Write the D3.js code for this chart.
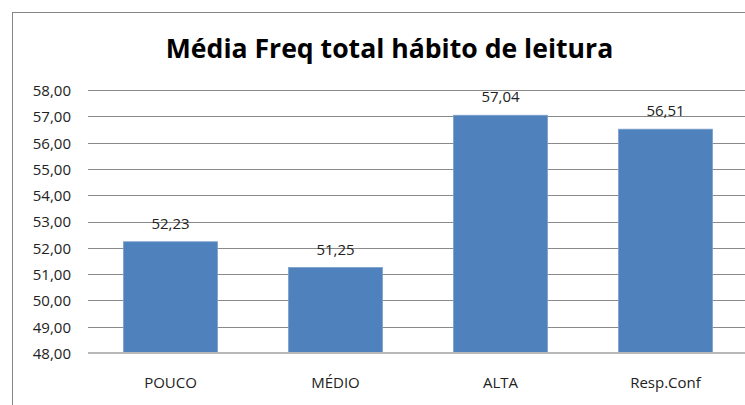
<!DOCTYPE html>
<html><head><meta charset="utf-8">
<script src="https://cdn.jsdelivr.net/npm/d3@7"></script>
<style>html,body{margin:0;padding:0;background:#fff;overflow:hidden}</style>
</head><body>
<svg id="chart" width="745" height="405"></svg>
<script>
const title = "Média Freq total hábito de leitura";
const categories = ["POUCO", "MÉDIO", "ALTA", "Resp.Conf"];
const values = [52.23, 51.25, 57.04, 56.51];
const yTicks = [48, 49, 50, 51, 52, 53, 54, 55, 56, 57, 58];

const svg = d3.select("#chart");
const fmt = v => d3.format(".2f")(v).replace(".", ",");
const font = "'Open Sans', sans-serif";

// frame
svg.append("rect").attr("x", 12.5).attr("y", 12.5).attr("width", 760).attr("height", 420)
  .attr("fill", "#fff").attr("stroke", "#868686").attr("stroke-width", 1);

const x = d3.scaleBand().domain(categories).range([88, 748]).paddingInner(0.4303).paddingOuter(0.2152);
const y = d3.scaleLinear().domain([48, 58]).range([353, 90]);

// gridlines
const yAxis = d3.axisLeft(y).tickValues(yTicks).tickFormat(fmt).tickSize(-(748 - 88)).tickPadding(17);
const gy = svg.append("g").attr("transform", "translate(88,0)").call(yAxis);
gy.select(".domain").remove();
gy.selectAll(".tick line").attr("stroke", "#8a8a8a").attr("shape-rendering", "crispEdges");
gy.selectAll(".tick text").attr("font-family", font).attr("font-size", 15).attr("fill", "#222").attr("dy", "0.36em");

// bars
svg.append("g").selectAll("rect").data(values).join("rect")
  .attr("x", (d, i) => x(categories[i]))
  .attr("y", d => y(d))
  .attr("width", x.bandwidth())
  .attr("height", d => y(48) - y(d))
  .attr("fill", "#4F81BD")
  .attr("stroke", "#7ba0cd").attr("stroke-width", 0.8);

// bottom axis
const xAxis = d3.axisBottom(x).tickSize(0).tickPadding(0);
const gx = svg.append("g").attr("transform", "translate(0,353)").call(xAxis);
gx.select(".domain").attr("d", "M88,0H748").attr("stroke", "#b8b8b8").attr("stroke-width", 2);
gx.selectAll(".tick text").attr("font-family", font).attr("font-size", 15).attr("fill", "#222")
  .attr("dy", 0).attr("y", 35);

// value labels
svg.append("g").selectAll("text").data(values).join("text")
  .attr("x", (d, i) => x(categories[i]) + x.bandwidth() / 2)
  .attr("y", d => y(d) - 13)
  .attr("text-anchor", "middle")
  .attr("font-family", font).attr("font-size", 15).attr("fill", "#222")
  .text(d => fmt(d));

// title
svg.append("text").attr("x", 389.5).attr("y", 58).attr("text-anchor", "middle")
  .attr("font-family", font).attr("font-weight", "bold").attr("font-size", 26.6).attr("fill", "#000")
  .text(title);
</script>
</body></html>
